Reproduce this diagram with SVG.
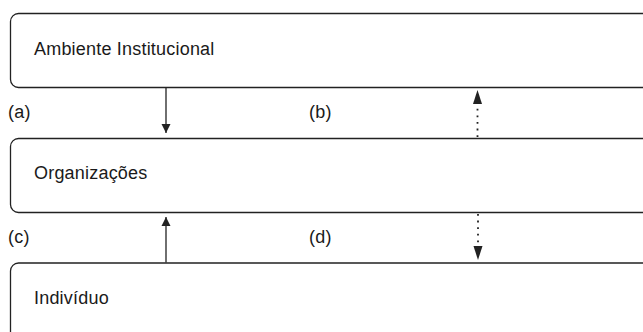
<svg xmlns="http://www.w3.org/2000/svg" width="643" height="332" viewBox="0 0 643 332">
<defs>
<style>
.box{fill:#fff;stroke:#222;stroke-width:1.3}
.t{font-family:"Liberation Sans",Arial,sans-serif;font-size:18px;letter-spacing:0.2px;fill:#1a1a1a}
.solid{stroke:#222;stroke-width:1.3;fill:none}
.dot{stroke:#222;stroke-width:1.8;fill:none;stroke-dasharray:1.8 4.8}
</style>
<marker id="ah" viewBox="0 0 10 10" refX="10" refY="5" markerWidth="9" markerHeight="14" markerUnits="userSpaceOnUse" orient="auto">
<path d="M0,0 L10,5 L0,10 z" fill="#222"/>
</marker>
</defs>
<rect width="643" height="332" fill="#fff"/>
<g id="ambiente">
<rect class="box" x="10.5" y="13.5" width="660" height="74" rx="8"/>
<text class="t" x="34" y="55">Ambiente Institucional</text>
</g>
<g id="organizacoes">
<rect class="box" x="10.5" y="138.5" width="660" height="74" rx="8"/>
<text class="t" x="34" y="179">Organizações</text>
</g>
<g id="individuo">
<rect class="box" x="10.5" y="263" width="660" height="80" rx="8"/>
<text class="t" x="34" y="304">Indivíduo</text>
</g>
<g id="labels">
<text class="t" x="8" y="118">(a)</text>
<text class="t" x="309" y="118">(b)</text>
<text class="t" x="8" y="243">(c)</text>
<text class="t" x="309" y="243">(d)</text>
</g>
<g id="connectors">
<line class="solid" x1="166" y1="88" x2="166" y2="133" marker-end="url(#ah)"/>
<line class="dot" x1="477.5" y1="137" x2="477.5" y2="104"/>
<path d="M477.5,90 L482,104 L473,104 z" fill="#222"/>
<line class="solid" x1="166" y1="262.5" x2="166" y2="217" marker-end="url(#ah)"/>
<line class="dot" x1="478" y1="214" x2="478" y2="246"/>
<path d="M478,260 L482.5,246 L473.5,246 z" fill="#222"/>
</g>
</svg>
